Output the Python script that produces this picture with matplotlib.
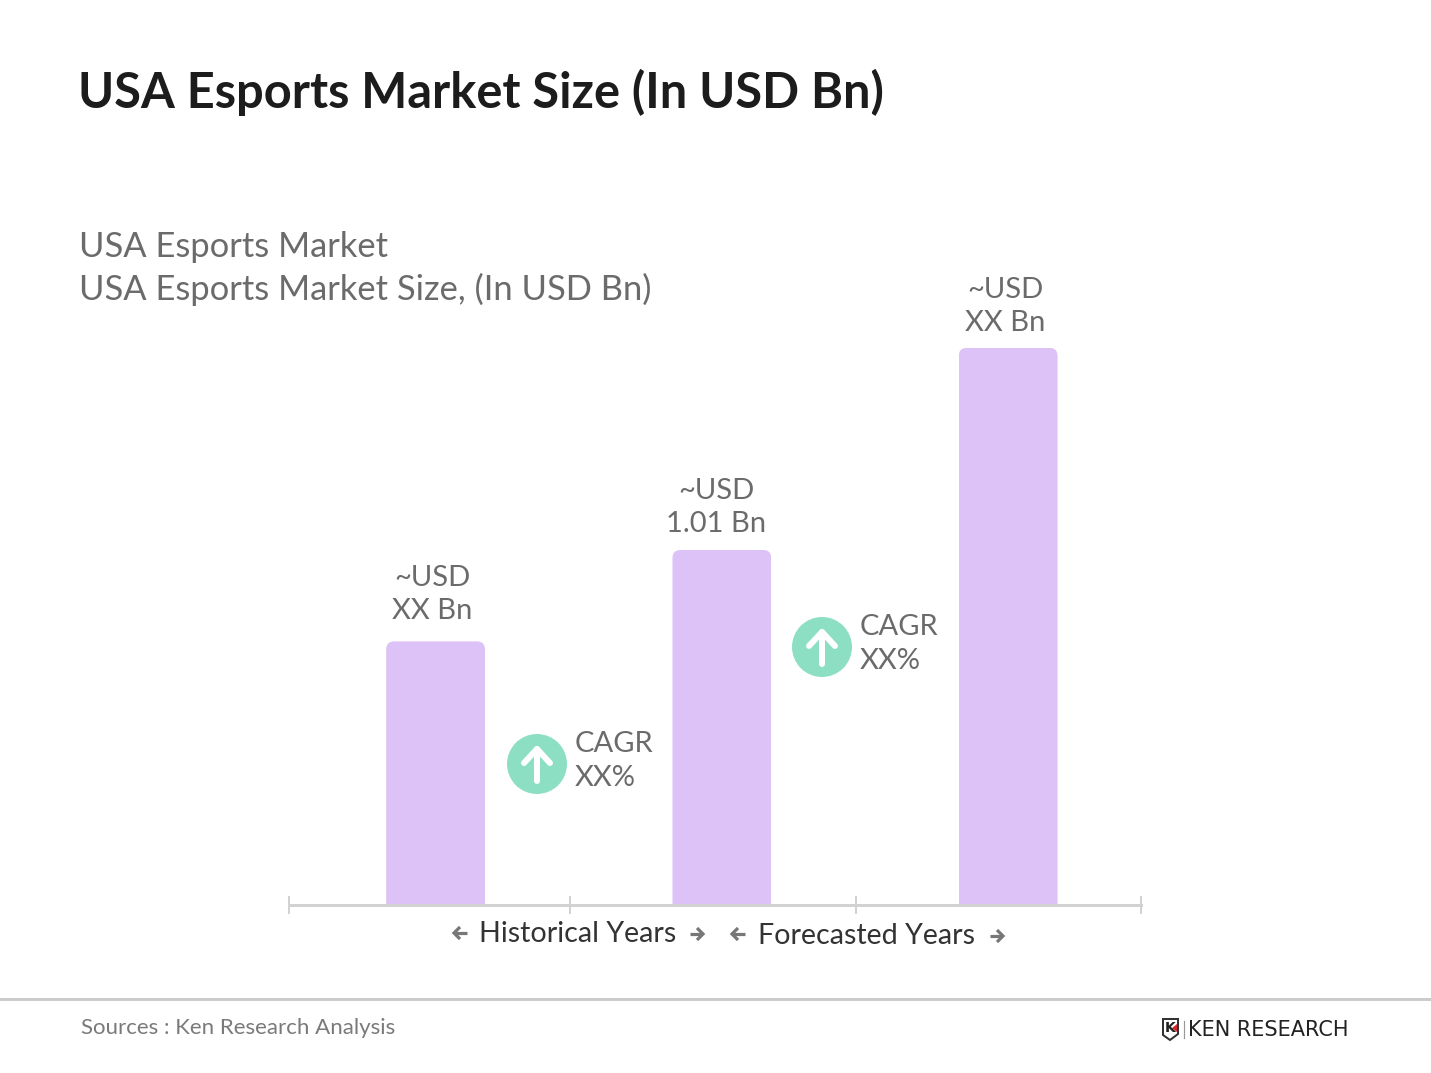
import matplotlib
matplotlib.use("Agg")
import matplotlib.pyplot as plt
from matplotlib.patches import Circle, FancyBboxPatch, Polygon

W, H = 1431, 1073
plt.rcParams["font.family"] = ["Lato", "DejaVu Sans"]

# chart data (1.01 Bn is the only printed one)
categories = [0, 1, 2]
values = [0.75, 1.01, 1.585]
bar_labels = ["~USD\nXX Bn", "~USD\n1.01 Bn", "~USD\nXX Bn"]
bar_label_shift = [(-3.5, 17), (-5.5, 13), (-3, 12)]
divider_ticks = [-0.512, 0.47, 1.469, 2.464]
cagr_labels = ["CAGR\nXX%", "CAGR\nXX%"]

title = "USA Esports Market Size (In USD Bn)"
subtitle = ["USA Esports Market", "USA Esports Market Size, (In USD Bn)"]
source = "Sources : Ken Research Analysis"

PURPLE = "#dcc2f7"
GREEN = "#8ddfc3"
LINE = "#d2d2d2"
GREY = "#6b6b6b"
PX = 0.72  # points per pixel at dpi 100

fig = plt.figure(figsize=(W / 100, H / 100), dpi=100, facecolor="white")

# ---- bars, on a real axes placed in pixels
ax = fig.add_axes([289 / W, (H - 905) / H, 852 / W, 560 / H])
ax.set_xlim(-0.512, 2.464)
ax.set_ylim(0, 560 / 351.5)
ax.patch.set_visible(False)
for side in ["top", "left", "right"]:
    ax.spines[side].set_visible(False)
ax.spines["bottom"].set_color(LINE)
ax.spines["bottom"].set_linewidth(3 * PX)
ax.spines["bottom"].set_zorder(5)
ax.set_yticks([])
ax.set_xticks(divider_ticks)
ax.set_xticklabels([])
ax.tick_params(axis="x", direction="inout", length=18 * PX, width=2 * PX, color=LINE)

bars = ax.bar(categories, values, width=0.345, color=PURPLE, linewidth=0, zorder=2)
for bar, label, (dx, dy) in zip(bars, bar_labels, bar_label_shift):
    # round the top corners only: the clip box runs on below the baseline
    clip = FancyBboxPatch(
        (bar.get_x(), -0.1), bar.get_width(), bar.get_height() + 0.1,
        boxstyle="round,pad=0,rounding_size=0.028", mutation_aspect=0.814,
        transform=ax.transData,
    )
    bar.set_clip_path(clip)
    ax.annotate(label, (bar.get_x() + bar.get_width() / 2, bar.get_height()),
                xytext=(dx * PX, dy * PX), textcoords="offset points",
                ha="center", va="bottom", fontsize=21, color=GREY,
                linespacing=1.34, annotation_clip=False)

# ---- everything else sits on a full figure overlay in pixel coordinates
ov = fig.add_axes([0, 0, 1, 1], zorder=3)
ov.set_xlim(0, W)
ov.set_ylim(H, 0)
ov.axis("off")

ov.text(78, 92, title, fontsize=35.1, fontweight="bold", color="#1c1c1c", va="center")
ov.text(79, 247, subtitle[0], fontsize=24.8, color=GREY, va="center")
ov.text(79, 289, subtitle[1], fontsize=24.8, color=GREY, va="center")

for (cx, cy), label in zip([(537, 764), (822, 647)], cagr_labels):
    ov.add_patch(Circle((cx, cy), 30, color=GREEN, lw=0))
    ov.plot([cx, cx], [cy + 17, cy - 15], color="white", lw=6 * PX, solid_capstyle="round")
    ov.plot([cx - 13, cx, cx + 13], [cy - 1, cy - 15, cy - 1], color="white", lw=6 * PX,
            solid_capstyle="round", solid_joinstyle="round")
    ov.text(cx + 38, cy - 3, label, fontsize=21, color=GREY, va="center", linespacing=1.34)

ov.text(578, 934, "Historical Years", fontsize=20.6, color="#333333", ha="center", va="center")
ov.text(867, 936, "Forecasted Years", fontsize=20.6, color="#333333", ha="center", va="center")
# small thick arrows either side of the two labels
for x, y, d in [(461, 933, -1), (696, 934, 1), (739, 934, -1), (996, 936, 1)]:
    ov.plot([x - 6 * d, x + 6 * d], [y, y], color="#777777", lw=3.2 * PX, solid_capstyle="butt")
    ov.plot([x + d, x + 7 * d, x + d], [y - 6, y, y + 6], color="#777777", lw=3.2 * PX,
            solid_capstyle="butt", solid_joinstyle="miter")

# footer
ov.plot([0, W], [999, 999], color="#cccccc", lw=3 * PX)
ov.text(81, 1028, source, fontsize=16, color="#7a7a7a", va="center")

# logo
ov.add_patch(Polygon([(1163, 1019), (1178, 1019), (1178, 1034), (1170, 1040), (1163, 1035)],
                     closed=True, fc="white", ec="#333333", lw=2 * PX))
ov.text(1170.5, 1028, "K", fontsize=10, fontweight="bold", color="#222222", ha="center", va="center",
        family="DejaVu Sans")
ov.add_patch(Polygon([(1172, 1028), (1177, 1024), (1177, 1032)], closed=True, fc="#d8232a", lw=0))
ov.plot([1184, 1184], [1021, 1038], color="#999999", lw=1.2 * PX)
ov.text(1188, 1030, "KEN RESEARCH", fontsize=15, color="#222222", va="center", family="DejaVu Sans")

fig.savefig("out.png", dpi=100)
